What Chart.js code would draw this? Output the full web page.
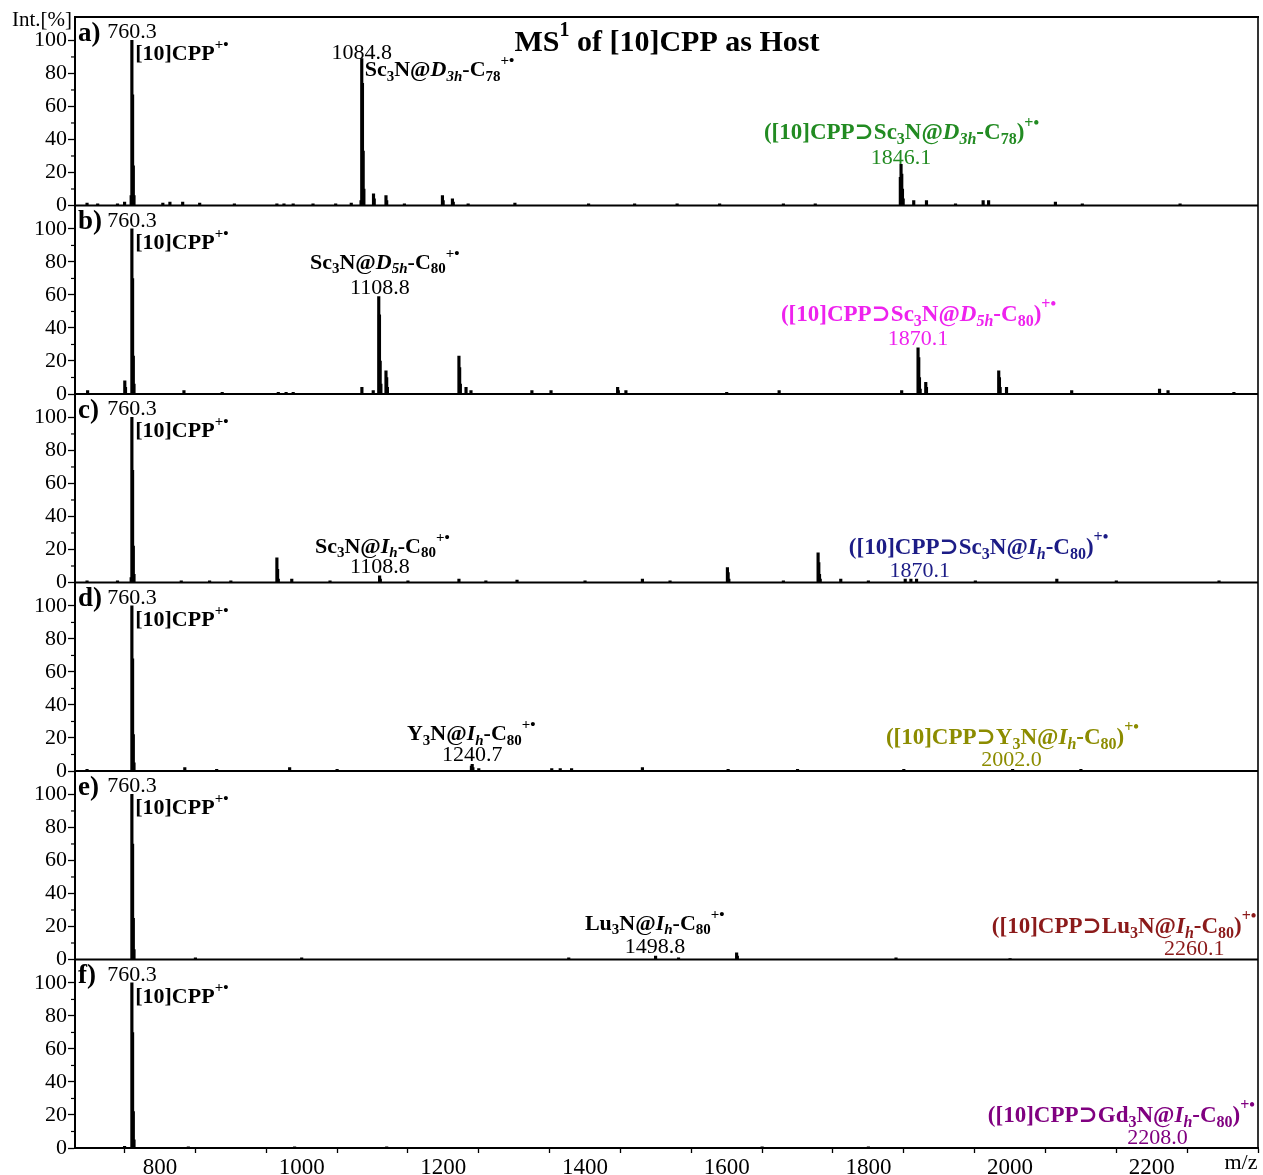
<!DOCTYPE html>
<html><head><meta charset="utf-8">
<script src="https://cdn.jsdelivr.net/npm/chart.js@4.4.1/dist/chart.umd.min.js"></script>
<style>html,body{margin:0;padding:0;background:#fff;}#wrap{position:relative;width:1263px;height:1175px;}</style>
</head><body><div id="wrap"><canvas id="c" width="1263" height="1175"></canvas></div>
<script>
// ---------------- data ----------------
const panelTags = ['a)', 'b)', 'c)', 'd)', 'e)', 'f)'];
const xTickValues = [700, 800, 900, 1000, 1100, 1200, 1300, 1400, 1500, 1600, 1700, 1800, 1900, 2000, 2100, 2200, 2300];
const yTickValues = [0, 10, 20, 30, 40, 50, 60, 70, 80, 90, 100];

const mzA = [697, 712, 740, 750, 759.3, 760.3, 761.3, 762.3, 763.3, 804, 814, 832, 856, 905, 965, 975, 988, 1016, 1048, 1070, 1083.8, 1084.8, 1085.8, 1086.8, 1087.8, 1101.4, 1102.4, 1119, 1120, 1145, 1198.7, 1199.7, 1212.8, 1214, 1235, 1301, 1405, 1470, 1530, 1590, 1680, 1725, 1845.1, 1846.1, 1847.1, 1848.1, 1849.1, 1864, 1882, 1923, 1962, 1969.7, 2064, 2102, 2240];
const intA = [1.5, 1, 1, 2, 6, 100, 67, 24, 6, 1.5, 2, 2, 1.5, 1, 1, 1, 1, 1, 1, 1.5, 3, 89, 74, 33, 10, 7, 4, 6, 3, 1, 6, 3, 4, 2, 1, 1.5, 1, 1, 1, 1, 1, 1, 17, 25, 19, 10, 4, 3, 3, 1, 3, 3, 2, 1, 1];

const mzB = [697.8, 750.3, 751.3, 760.3, 761.3, 762.3, 763.3, 833.8, 887.8, 967, 978, 988, 1085, 1101, 1108.8, 1109.8, 1110.8, 1111.8, 1119, 1120, 1121, 1222, 1223, 1224, 1232, 1239, 1325, 1352, 1446, 1447, 1457.7, 1600, 1674, 1847, 1870.1, 1871.1, 1872.1, 1873.1, 1881, 1882, 1984, 1985, 1986, 1995, 2087, 2211, 2223, 2316];
const intB = [2, 8, 4, 100, 70, 23, 6, 2, 1, 1, 1, 1, 4, 2, 59, 48, 20, 6, 14, 10, 4, 23, 16, 6, 4, 2, 2, 2, 4, 2, 2, 1, 2, 2, 28, 22, 10, 3, 7, 4, 14, 10, 4, 4, 2, 3, 2, 1];

const mzC = [697, 740, 759.3, 760.3, 761.3, 762.3, 763.3, 830, 870, 900, 965, 966, 967, 986, 1040, 1110, 1111, 1150, 1222, 1260, 1304, 1400, 1481, 1520, 1601, 1602, 1603, 1680, 1729, 1730, 1731, 1732, 1761, 1800, 1852, 1860, 1868, 1951, 2066, 2150, 2295];
const intC = [1, 1, 3, 100, 68, 22, 5, 1, 1, 1, 15, 8, 2, 2, 1, 4, 2, 1, 2, 1, 1.5, 1, 2, 1, 9, 6, 2, 1, 18, 12, 5, 2, 2, 1, 2, 2, 2, 1, 2, 1, 1];

const mzD = [697, 760.3, 761.3, 762.3, 763.3, 835, 880, 983, 1050, 1239.6, 1240.7, 1241.7, 1250, 1353, 1365, 1381, 1481, 1602, 1700, 1850, 2003.6, 2100];
const intD = [1, 100, 68, 22, 5, 2, 1, 2, 1, 3, 4, 2, 1.5, 1.5, 1.5, 1.5, 2, 1, 1, 1, 1, 1];

const mzE = [760.3, 761.3, 762.3, 763.3, 850, 1000, 1377, 1499.6, 1532, 1614, 1615, 1839, 2000];
const intE = [100, 70, 25, 6, 1, 1, 1, 2, 1, 4, 2, 1, 0.5];

const mzF = [750, 760.3, 761.3, 762.3, 763.3, 840, 990, 1120, 1650, 1800];
const intF = [1, 100, 70, 22, 5, 0.7, 0.7, 0.7, 0.7, 0.7];

const hostLabel = '[10]CPP^{+•}';
const hostMz = '760.3';
const speciesLabels = ['Sc_{3}N@*D_{3h}*-C_{78}^{+•}', 'Sc_{3}N@*D_{5h}*-C_{80}^{+•}', 'Sc_{3}N@*I_{h}*-C_{80}^{+•}', 'Y_{3}N@*I_{h}*-C_{80}^{+•}', 'Lu_{3}N@*I_{h}*-C_{80}^{+•}', null];
const speciesMz = ['1084.8', '1108.8', '1108.8', '1240.7', '1498.8', null];
const complexLabels = ['([10]CPP⊃Sc_{3}N@*D_{3h}*-C_{78})^{+•}', '([10]CPP⊃Sc_{3}N@*D_{5h}*-C_{80})^{+•}', '([10]CPP⊃Sc_{3}N@*I_{h}*-C_{80})^{+•}', '([10]CPP⊃Y_{3}N@*I_{h}*-C_{80})^{+•}', '([10]CPP⊃Lu_{3}N@*I_{h}*-C_{80})^{+•}', '([10]CPP⊃Gd_{3}N@*I_{h}*-C_{80})^{+•}'];
const complexMz = ['1846.1', '1870.1', '1870.1', '2002.0', '2260.1', '2208.0'];
const titleText = 'MS^{1} of [10]CPP as Host';

// ---------------- layout / style ----------------
const FONT = '"Liberation Serif", "Times New Roman", "DejaVu Serif", serif';
const X_MIN = 680, X_MAX = 2350, Y_MAX = 114.2;
const complexColors = ['#228b22', '#ee22ee', '#1c1c86', '#8c8c00', '#8b1a1a', '#800080'];
// label anchors in data coordinates [m/z, intensity]
const speciesTextPos = [[1089, 82], [1011.7, 79.4], [1018.7, 21.5], [1148.6, 22.4], [1399.8, 21.5], null];
const speciesNumPos = [[1084.8, 92.4], [1110.5, 64.2], [1110.5, 9.4], [1240.7, 9.7], [1498.8, 7.6], null];
const complexTextPos = [[1652.5, 43.9], [1676.5, 47.9], [1772.4, 20.9], [1824.7, 20], [1974.3, 19.7], [1968.6, 19.4]];
const complexNumPos = [[1846.1, 28.8], [1870.1, 33.3], [1872.6, 7], [2002, 6.7], [2260.1, 6.4], [2208, 6.1]];

const panels = [[mzA, intA], [mzB, intB], [mzC, intC], [mzD, intD], [mzE, intE], [mzF, intF]];

function parseRich(s) {
  const segs = []; let it = false, i = 0, buf = '';
  const flush = () => { if (buf) { segs.push({t: buf, it, pos: 'n'}); buf = ''; } };
  while (i < s.length) {
    const c = s[i];
    if (c === '*') { flush(); it = !it; i++; continue; }
    if ((c === '_' || c === '^') && s[i + 1] === '{') {
      flush(); const j = s.indexOf('}', i);
      segs.push({t: s.slice(i + 2, j), it, pos: c === '_' ? 'sub' : 'sup'});
      i = j + 1; continue;
    }
    buf += c; i++;
  }
  flush(); return segs;
}
function fontFor(seg, size, bold) {
  const s = seg.pos === 'n' ? size : Math.round(size * 0.68);
  return (seg.it ? 'italic ' : '') + (bold ? 'bold ' : '') + s + 'px ' + FONT;
}
function drawRich(ctx, markup, x, y, size, bold, align, color) {
  const segs = parseRich(markup);
  let w = 0;
  for (const g of segs) { ctx.font = fontFor(g, size, bold); g.w = ctx.measureText(g.t).width; w += g.w; }
  let cx = align === 'center' ? x - w / 2 : align === 'right' ? x - w : x;
  ctx.fillStyle = color; ctx.textAlign = 'left'; ctx.textBaseline = 'middle';
  for (const g of segs) {
    ctx.font = fontFor(g, size, bold);
    const dy = g.pos === 'sub' ? size * 0.3 : g.pos === 'sup' ? -size * 0.42 : 0;
    ctx.fillText(g.t, cx, y + dy); cx += g.w;
  }
}

const decor = {
  id: 'decor',
  afterDraw(chart) {
    const ctx = chart.ctx, ca = chart.chartArea, xs = chart.scales.x;
    const line = (x1, y1, x2, y2) => { ctx.beginPath(); ctx.moveTo(x1, y1); ctx.lineTo(x2, y2); ctx.stroke(); };
    ctx.save();
    ctx.strokeStyle = '#000';
    ctx.lineWidth = 2; line(ca.left - 1, ca.top, ca.right + 1, ca.top);
    ctx.lineWidth = 1.6; line(ca.right, ca.top, ca.right, ca.bottom);
    for (let i = 0; i < 6; i++) {
      const ys = chart.scales['y' + i];
      ctx.lineWidth = 2; line(ca.left, ys.bottom, ca.right, ys.bottom);
      ctx.lineWidth = 1.2;
      for (const v of yTickValues) if (v % 20 !== 0) { const py = ys.getPixelForValue(v); line(ca.left - 4, py, ca.left, py); }
      const X = v => xs.getPixelForValue(v), Y = v => ys.getPixelForValue(v);
      drawRich(ctx, panelTags[i], ca.left + 3, Y(104), 27, true, 'left', '#000');
      drawRich(ctx, hostMz, X(760.3), Y(104.9), 22, false, 'center', '#000');
      drawRich(ctx, hostLabel, X(765), Y(91.3), 22, true, 'left', '#000');
      if (speciesLabels[i]) {
        drawRich(ctx, speciesLabels[i], X(speciesTextPos[i][0]), Y(speciesTextPos[i][1]), 22, true, 'left', '#000');
        drawRich(ctx, speciesMz[i], X(speciesNumPos[i][0]), Y(speciesNumPos[i][1]), 22, false, 'center', '#000');
      }
      drawRich(ctx, complexLabels[i], X(complexTextPos[i][0]), Y(complexTextPos[i][1]), 23, true, 'left', complexColors[i]);
      drawRich(ctx, complexMz[i], X(complexNumPos[i][0]), Y(complexNumPos[i][1]), 22, false, 'center', complexColors[i]);
      if (i === 0) drawRich(ctx, titleText, X(1515.6), Y(98.2), 30, true, 'center', '#000');
    }
    drawRich(ctx, 'Int.[%]', ca.left - 63, ca.top + 3, 21, false, 'left', '#000');
    drawRich(ctx, 'm/z', xs.getPixelForValue(2326), ca.bottom + 15, 22, false, 'center', '#000');
    ctx.restore();
  }
};

const scales = {};
for (let i = 5; i >= 0; i--) {
  scales['y' + i] = {
    type: 'linear', position: 'left', stack: 'ms', stackWeight: 1, offset: false,
    min: 0, max: Y_MAX,
    afterBuildTicks: s => { s.ticks = yTickValues.map(v => ({value: v})); },
    afterFit: s => { s.width = 75; },
    ticks: { autoSkip: false, padding: 1, color: '#000', font: {family: FONT, size: 22},
      callback: v => (v % 20 === 0 ? String(v) : '') },
    grid: { drawOnChartArea: false, drawTicks: true, tickLength: 7, tickWidth: 1.3,
      tickColor: c => (c.tick && c.tick.value % 20 === 0 ? '#000' : 'rgba(0,0,0,0)') },
    border: { display: true, color: '#000', width: 2 }
  };
}
scales.x = {
  type: 'linear', position: 'bottom', min: X_MIN, max: X_MAX, offset: false,
  afterBuildTicks: s => { s.ticks = xTickValues.map(v => ({value: v})); },
  afterFit: s => { s.height = 27; },
  ticks: { autoSkip: false, maxRotation: 0, padding: 1, color: '#000', font: {family: FONT, size: 23},
    callback: v => (v % 200 === 0 && v <= 2200 ? String(v) : '') },
  grid: { drawOnChartArea: false, drawTicks: true, tickLength: 5, tickWidth: 1.3, tickColor: '#000' },
  border: { display: true, color: '#000', width: 2 }
};

const datasets = panels.map((p, i) => ({
  type: 'bar', label: panelTags[i],
  data: p[0].map((m, k) => ({x: m, y: p[1][k]})),
  xAxisID: 'x', yAxisID: 'y' + i,
  backgroundColor: '#000', borderWidth: 0, barThickness: 2.5, grouped: false
}));

new Chart(document.getElementById('c'), {
  type: 'bar',
  data: { datasets },
  options: {
    responsive: false, animation: false, devicePixelRatio: 1,
    layout: { padding: { top: 17, right: 5, bottom: 0, left: 0 } },
    plugins: { legend: { display: false }, tooltip: { enabled: false }, title: { display: false } },
    scales
  },
  plugins: [decor]
});
</script></body></html>
